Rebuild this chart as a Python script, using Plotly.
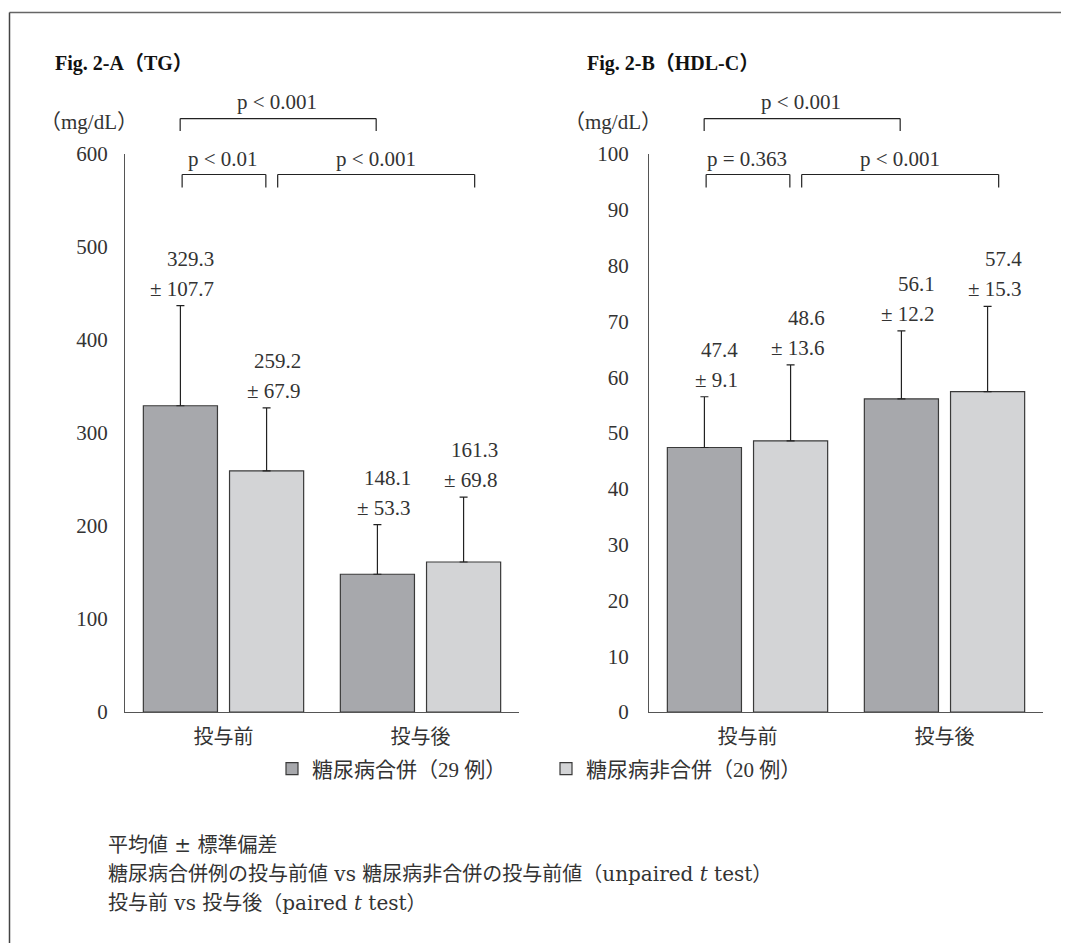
import plotly.graph_objects as go

# ---------------- data ----------------
groups = ["投与前", "投与後"]
series_names = ["糖尿病合併（29 例）", "糖尿病非合併（20 例）"]

tg_mean_dm = [329.3, 148.1]
tg_sd_dm = [107.7, 53.3]
tg_mean_non = [259.2, 161.3]
tg_sd_non = [67.9, 69.8]

hdl_mean_dm = [47.4, 56.1]
hdl_sd_dm = [9.1, 12.2]
hdl_mean_non = [48.6, 57.4]
hdl_sd_non = [13.6, 15.3]

tg_ticks = [0, 100, 200, 300, 400, 500, 600]
hdl_ticks = [0, 10, 20, 30, 40, 50, 60, 70, 80, 90, 100]

panel_titles = ["<b>Fig. 2-A（TG）</b>", "<b>Fig. 2-B（HDL-C）</b>"]
unit_label = "（mg/dL）"
p_top = ["p < 0.001", "p < 0.001"]
p_left = ["p < 0.01", "p = 0.363"]
p_right = ["p < 0.001", "p < 0.001"]
notes = [
    "平均値 ± 標準偏差",
    "糖尿病合併例の投与前値 vs 糖尿病非合併の投与前値（unpaired <i>t</i> test）",
    "投与前 vs 投与後（paired <i>t</i> test）",
]

# ---------------- style ----------------
OX = 8  # page body margin offset
W, H = 1069 - 2 * OX, 951 - 2 * OX
ML, MR, MT, MB = 117, 18, 146, 231
PW, PH = W - ML - MR, H - MT - MB
DARK = "#a7a8ac"
LIGHT = "#d3d4d6"
EDGE = "#3a3a3a"
AXIS = "#555555"
TXT = "#333333"
FONT = 'Liberation Serif, "Noto Sans CJK JP", serif'
FONT2 = 'DejaVu Serif, "Noto Sans CJK JP", serif'
BARGAP = 0.125
BGG = 0.14
OFF = (1 - BARGAP) / 4  # bar center offset from category center


def px_x(x):
    return (x - OX - ML) / PW


def px_y(y):
    return (H - MB - (y - OX)) / PH


fig = go.Figure()

panels = [
    ("x", "y", tg_mean_dm, tg_sd_dm, tg_mean_non, tg_sd_non),
    ("x2", "y2", hdl_mean_dm, hdl_sd_dm, hdl_mean_non, hdl_sd_non),
]

for k, (xa, ya, m1, s1, m2, s2) in enumerate(panels):
    for j, (m, s, col, nm) in enumerate([(m1, s1, DARK, series_names[0]),
                                         (m2, s2, LIGHT, series_names[1])]):
        fig.add_trace(go.Bar(
            x=groups, y=m, name=nm, xaxis=xa, yaxis=ya,
            marker=dict(color=col, line=dict(color=EDGE, width=1.2)),
            error_y=dict(type="data", symmetric=False, array=s,
                         arrayminus=[0] * len(s), color="#222222",
                         thickness=1.2, width=4),
            showlegend=(k == 0),
            legend=("legend" if j == 0 else "legend2"),
        ))
        # value labels
        for i in range(len(groups)):
            xpos = i + (-OFF if j == 0 else OFF)
            top = m[i] + s[i]
            fig.add_annotation(x=xpos, y=top, xref=xa, yref=ya,
                               text=f"± {s[i]}", showarrow=False,
                               xanchor="right", yanchor="middle",
                               xshift=36, yshift=17,
                               font=dict(family=FONT, size=21, color=TXT))
            fig.add_annotation(x=xpos, y=top, xref=xa, yref=ya,
                               text=f"{m[i]}", showarrow=False,
                               xanchor="right", yanchor="middle",
                               xshift=36, yshift=47,
                               font=dict(family=FONT, size=21, color=TXT))

    # significance brackets (category units, paper y)
    y_top_line, y_top_tick, y_top_txt = px_y(118.6), px_y(131), px_y(102)
    y_l2_line, y_l2_tick, y_l2_txt = px_y(174.5), px_y(187.5), px_y(158.5)
    brackets = [
        (-0.22, 0.775, y_top_line, y_top_tick),
        (-0.21, 0.215, y_l2_line, y_l2_tick),
        (0.275, 1.275, y_l2_line, y_l2_tick),
    ]
    for x0, x1, yl, yt in brackets:
        for sx0, sy0, sx1, sy1 in [(x0, yt, x0, yl), (x0, yl, x1, yl), (x1, yl, x1, yt)]:
            fig.add_shape(type="line", xref=xa, yref="paper",
                          x0=sx0, y0=sy0, x1=sx1, y1=sy1,
                          line=dict(color="#222222", width=1.2))
    for xt, yt, t in [(0.27, y_top_txt, p_top[k]),
                      (-0.005, y_l2_txt, p_left[k]),
                      (0.775, y_l2_txt, p_right[k])]:
        fig.add_annotation(x=xt, y=yt, xref=xa, yref="paper", text=t,
                           showarrow=False, xanchor="center", yanchor="middle",
                           font=dict(family=FONT, size=21, color=TXT))

# panel titles and unit labels
for tx, ux, t in [(53, 88.5, panel_titles[0]), (585, 613, panel_titles[1])]:
    fig.add_annotation(x=px_x(tx), y=px_y(64), xref="paper", yref="paper",
                       text=t, showarrow=False, xanchor="left", yanchor="middle",
                       font=dict(family=FONT, size=20, color="#111111"))
    fig.add_annotation(x=px_x(ux), y=px_y(122), xref="paper", yref="paper",
                       text=unit_label, showarrow=False, xanchor="center",
                       yanchor="middle",
                       font=dict(family=FONT, size=21, color=TXT))

# notes
for n, yy in zip(notes, [845, 874, 903]):
    fig.add_annotation(x=px_x(106), y=px_y(yy), xref="paper", yref="paper",
                       text=n, showarrow=False, xanchor="left", yanchor="middle",
                       font=dict(family=FONT2, size=20, color=TXT))

# outer frame (top and left edges)
fig.add_shape(type="line", xref="paper", yref="paper",
              x0=px_x(9.5), y0=px_y(12.5), x1=px_x(1075), y1=px_y(12.5),
              line=dict(color="#666666", width=1.5))
fig.add_shape(type="line", xref="paper", yref="paper",
              x0=px_x(9.5), y0=px_y(12.5), x1=px_x(9.5), y1=px_y(960),
              line=dict(color="#444444", width=1.5))

axis_common = dict(showgrid=False, zeroline=False, showline=True,
                   linecolor=AXIS, linewidth=1.2, ticks="")

fig.update_layout(
    width=W, height=H,
    margin=dict(l=ML, r=MR, t=MT, b=MB),
    paper_bgcolor="white", plot_bgcolor="white",
    barmode="group", bargap=BARGAP, bargroupgap=BGG,
    font=dict(family=FONT, color=TXT),
    xaxis=dict(domain=[0, (519 - 125) / PW],
               range=[-0.5, 1.5], ticklabelstandoff=7,
               tickfont=dict(family=FONT, size=20, color=TXT), **axis_common),
    xaxis2=dict(domain=[(649 - 125) / PW, 1], range=[-0.5, 1.5],
                ticklabelstandoff=7,
                tickfont=dict(family=FONT, size=20, color=TXT), **axis_common),
    yaxis=dict(range=[0, 600], tickvals=tg_ticks, anchor="x",
               ticklabelstandoff=12,
               tickfont=dict(family=FONT, size=21, color=TXT), **axis_common),
    yaxis2=dict(range=[0, 100], tickvals=hdl_ticks, anchor="x2",
                ticklabelstandoff=15,
                tickfont=dict(family=FONT, size=21, color=TXT), **axis_common),
    legend=dict(x=px_x(272), y=px_y(769), xanchor="left", yanchor="middle",
                orientation="h", bgcolor="rgba(0,0,0,0)",
                font=dict(family=FONT, size=21, color=TXT)),
    legend2=dict(x=px_x(546), y=px_y(769), xanchor="left", yanchor="middle",
                 orientation="h", bgcolor="rgba(0,0,0,0)",
                 font=dict(family=FONT, size=21, color=TXT)),
)

fig.write_html("out.html")
